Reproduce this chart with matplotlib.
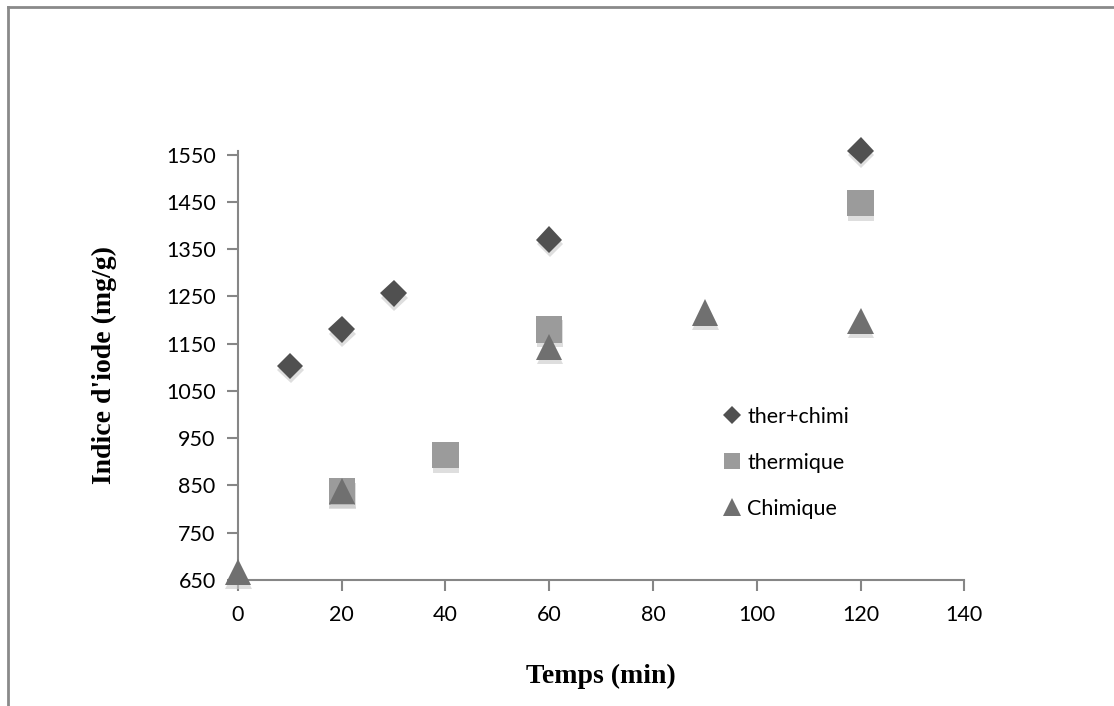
import numpy as np
import matplotlib.pyplot as plt
import matplotlib.patheffects as pe
from matplotlib.lines import Line2D

# data
t_therchimi = [10, 20, 30, 60, 120]
y_therchimi = [1103, 1180, 1256, 1370, 1558]
t_thermique = [20, 40, 60, 120]
y_thermique = [837, 914, 1180, 1447]
t_chimique = [0, 20, 60, 90, 120]
y_chimique = [667, 838, 1143, 1216, 1198]

labels = ['ther+chimi', 'thermique', 'Chimique']
xticks = [0, 20, 40, 60, 80, 100, 120, 140]
yticks = [650, 750, 850, 950, 1050, 1150, 1250, 1350, 1450, 1550]

fig = plt.figure(figsize=(11.14, 7.06), dpi=100)
ax = fig.add_axes([0.2136, 0.1785, 0.652, 0.6080])

#shadow under markers, like excel
shadow = [pe.SimplePatchShadow(offset=(0.5, -3), shadow_rgbFace='#c8c8c8', alpha=0.6),
          pe.Normal()]

ax.plot(t_therchimi, y_therchimi, linestyle='none', marker='D', markersize=13.5,
        color='#505050', markeredgewidth=0, path_effects=shadow, zorder=3, clip_on=False)
ax.plot(t_thermique, y_thermique, linestyle='none', marker='s', markersize=19,
        color='#9b9b9b', markeredgewidth=0, path_effects=shadow, zorder=3, clip_on=False)
ax.plot(t_chimique, y_chimique, linestyle='none', marker='^', markersize=19,
        color='#707070', markeredgewidth=0, path_effects=shadow, zorder=4, clip_on=False)

ax.set_xlim(0, 140)
ax.set_ylim(650, 1558)
ax.set_xticks(xticks)
ax.set_yticks(yticks)
tick_font = 'Lato'
ax.set_xticklabels([str(v) for v in xticks], fontsize=15.5, family=tick_font)
ax.set_yticklabels([str(v) for v in yticks], fontsize=15.5, family=tick_font)
ax.tick_params(direction='out', length=8, width=1.5, color='#868686', pad=8)
ax.tick_params(axis='x', pad=10)
for s in ['top', 'right']:
    ax.spines[s].set_visible(False)
for s in ['left', 'bottom']:
    ax.spines[s].set_color('#868686')
    ax.spines[s].set_linewidth(1.5)

ax.set_xlabel('Temps (min)', family='Liberation Serif', fontweight='bold',
              fontsize=20, labelpad=28)
ax.set_ylabel("Indice d'iode (mg/g)", family='Liberation Serif', fontweight='bold',
              fontsize=20, labelpad=35)

#legend
handles = [Line2D([], [], linestyle='none', marker='D', markersize=9, color='#505050', markeredgewidth=0),
           Line2D([], [], linestyle='none', marker='s', markersize=12, color='#9b9b9b', markeredgewidth=0),
           Line2D([], [], linestyle='none', marker='^', markersize=13, color='#707070', markeredgewidth=0)]
ax.legend(handles, labels, loc='upper left', bbox_to_anchor=(0.66, 0.423),
          frameon=False, prop={'family': tick_font, 'size': 15.5},
          handlelength=0.6, handletextpad=0.4, labelspacing=1.2, borderaxespad=0)

#gray frame (top and left only visible in the crop)
fig.add_artist(Line2D([8 / 1114, 8 / 1114], [0, 1 - 7 / 706], transform=fig.transFigure,
                      color='#8a8a8a', linewidth=2))
fig.add_artist(Line2D([8 / 1114, 1], [1 - 7 / 706, 1 - 7 / 706], transform=fig.transFigure,
                      color='#8a8a8a', linewidth=2))

fig.savefig('out.png', dpi=100)
